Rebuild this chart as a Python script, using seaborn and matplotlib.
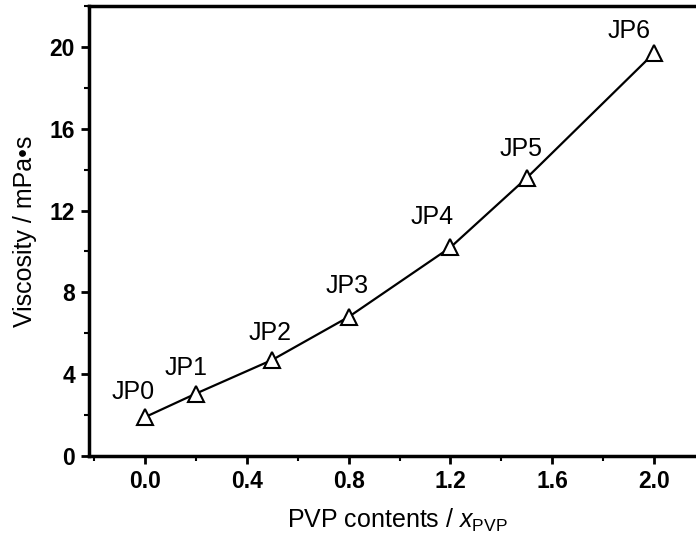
import matplotlib
matplotlib.use("Agg")
import matplotlib.pyplot as plt
import seaborn as sns
import pandas as pd
from matplotlib.ticker import MultipleLocator

samples = ["JP0", "JP1", "JP2", "JP3", "JP4", "JP5", "JP6"]
pvp_content = [0.0, 0.2, 0.5, 0.8, 1.2, 1.5, 2.0]
viscosity = [1.9, 3.05, 4.7, 6.8, 10.2, 13.6, 19.7]

df = pd.DataFrame({"sample": samples, "x": pvp_content, "y": viscosity})

sns.set_style("ticks")
plt.rcParams["font.family"] = ["Liberation Sans", "DejaVu Sans"]
plt.rcParams["mathtext.fontset"] = "custom"
plt.rcParams["mathtext.it"] = "Liberation Sans:italic"
plt.rcParams["mathtext.rm"] = "Liberation Sans"
plt.rcParams["text.color"] = "black"
plt.rcParams["axes.labelcolor"] = "black"
plt.rcParams["xtick.color"] = "black"
plt.rcParams["ytick.color"] = "black"

fig = plt.figure(figsize=(6.96, 5.44), dpi=100)
# axes extend slightly past right edge as in the reference
ax = fig.add_axes([89/696, (544-456)/544, 616/696, 450/544])

sns.lineplot(data=df, x="x", y="y", ax=ax, color="black", linewidth=1.6,
             marker="^", markersize=12, markerfacecolor="white",
             markeredgecolor="black", markeredgewidth=1.5, zorder=3)

ax.set_xlim(-0.22, 2.2)
ax.set_ylim(0, 22)
ax.xaxis.set_minor_locator(MultipleLocator(0.2))
ax.yaxis.set_minor_locator(MultipleLocator(2))
ax.set_xticks([0.0, 0.4, 0.8, 1.2, 1.6, 2.0])
ax.set_xticklabels(["0.0", "0.4", "0.8", "1.2", "1.6", "2.0"])
ax.set_yticks([0, 4, 8, 12, 16, 20])
ax.set_yticklabels(["0", "4", "8", "12", "16", "20"])

for lab in ax.get_xticklabels() + ax.get_yticklabels():
    lab.set_fontweight("bold")
    lab.set_fontsize(16.5)
    lab.set_color("black")

ax.tick_params(which="major", direction="out", length=6, width=2, color="black", pad=4)
ax.tick_params(which="minor", direction="out", length=3.5, width=1.5, color="black")
for side in ["left", "bottom", "top", "right"]:
    ax.spines[side].set_visible(True)
    ax.spines[side].set_linewidth(2.5)
    ax.spines[side].set_color("black")

ax.set_xlabel(r"PVP contents / $x_{\rm PVP}$", fontsize=18, labelpad=10, color="black")
ax.set_ylabel("Viscosity / mPa\u2022s", fontsize=18, labelpad=9, color="black")

offsets = [(-8.5, 18), (-7, 18.5), (-1.5, 19), (-1, 22), (-13.5, 22), (-4.5, 21), (-18, 16)]
for s, xv, yv, off in zip(samples, pvp_content, viscosity, offsets):
    ax.annotate(s, (xv, yv), xytext=off, textcoords="offset points",
                ha="center", va="center", fontsize=18, color="black")

fig.savefig("out.png", dpi=100)
